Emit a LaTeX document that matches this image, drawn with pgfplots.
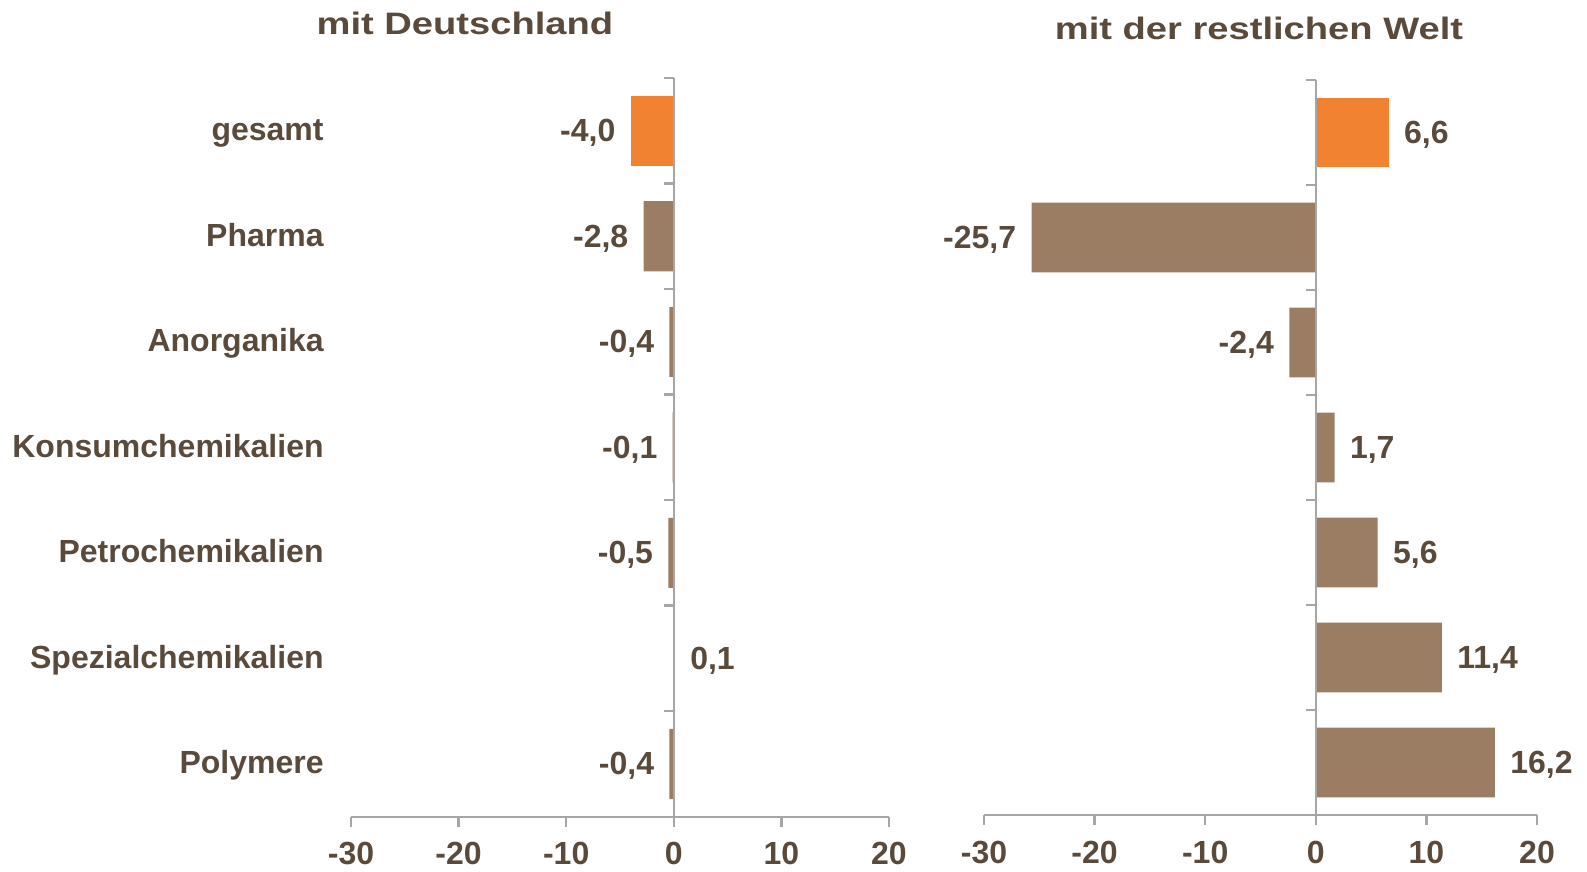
\documentclass[border=0pt]{standalone}
\usepackage{fontspec}
\setmainfont{Liberation Sans}
\newfontfamily\titlefont[FakeStretch=1.23]{Liberation Sans}
\usepackage{pgfplots}
\pgfplotsset{compat=1.18}
\definecolor{orange1}{HTML}{F08232}
\definecolor{braun}{HTML}{9A7D62}
\definecolor{txt}{HTML}{594A3C}
\definecolor{achse}{HTML}{A6A6A6}
\newcommand{\lbl}{\fontsize{16bp}{19bp}\selectfont\bfseries}
\tikzset{nulllinie/.style={achse, line width=1.2bp}}
\pgfplotsset{
  panel/.style={
    scale only axis, anchor=south west, clip=false,
    xbar, bar width=0.665, bar shift=0pt,
    xmin=-30, xmax=20, ymin=-0.5, ymax=6.5, y dir=reverse,
    axis x line*=bottom, axis y line*=left,
    y axis line style={draw=none}, ytick style={draw=none},
    x axis line style={-, achse, line width=1.2bp},
    xtick={-30,-20,...,20}, xtick align=outside,
    xtick style={achse, line width=1.2bp}, major tick length=5bp,
    ticklabel style={font=\lbl, text=txt},
    xticklabel style={anchor=base, inner sep=0pt, yshift=-19bp},
    /pgf/number format/assume math mode=true,
    nodes near coords={\pgfmathprintnumber[fixed, fixed zerofill, precision=1, use comma, assume math mode=true]{\pgfplotspointmeta}},
    nodes near coords style={font=\lbl, text=txt, inner xsep=7.5bp, yshift=-1bp},
  },
}

\begin{document}
\begin{tikzpicture}
\useasboundingbox (0,0) rectangle (793.5bp,-436bp);

% mit Deutschland
\begin{axis}[panel, at={(175.5bp,-408.35bp)}, width=269bp, height=369.35bp,
  ytick={0,...,6},
  yticklabels={gesamt, Pharma, Anorganika, Konsumchemikalien, Petrochemikalien, Spezialchemikalien, Polymere},
  yticklabel style={anchor=base east, inner sep=0pt, xshift=-8.5bp, yshift=-5bp}]
  \addplot[fill=orange1, draw=none] coordinates {(-4.0,0)};
  \addplot[fill=braun, draw=none] coordinates {(-2.8,1) (-0.4,2) (-0.1,3) (-0.5,4) (0.1,5) (-0.4,6)};
  \draw[nulllinie] (axis cs:0,-0.5) -- (axis cs:0,6.5);
  \pgfplotsinvokeforeach{-0.5,0.5,1.5,2.5,3.5,4.5,5.5}{
    \draw[nulllinie] (axis cs:0,#1) -- ++(-5bp,0pt);
  }
\end{axis}

% mit der restlichen Welt
\begin{axis}[panel, at={(492bp,-407.5bp)}, width=276.5bp, height=367.5bp,
  ytick=\empty]
  \addplot[fill=orange1, draw=none] coordinates {(6.6,0)};
  \addplot[fill=braun, draw=none] coordinates {(-25.7,1) (-2.4,2) (1.7,3) (5.6,4) (11.4,5) (16.2,6)};
  \draw[nulllinie] (axis cs:0,-0.5) -- (axis cs:0,6.5);
  \pgfplotsinvokeforeach{-0.5,0.5,1.5,2.5,3.5,4.5,5.5}{
    \draw[nulllinie] (axis cs:0,#1) -- ++(-5bp,0pt);
  }
\end{axis}

\node[anchor=base, text=txt, font=\titlefont\fontsize{15.5bp}{18bp}\selectfont\bfseries] at (232.5bp,-17bp) {mit Deutschland};
\node[anchor=base, text=txt, font=\titlefont\fontsize{15.5bp}{18bp}\selectfont\bfseries] at (629.5bp,-19.5bp) {mit der restlichen Welt};
\end{tikzpicture}
\end{document}
